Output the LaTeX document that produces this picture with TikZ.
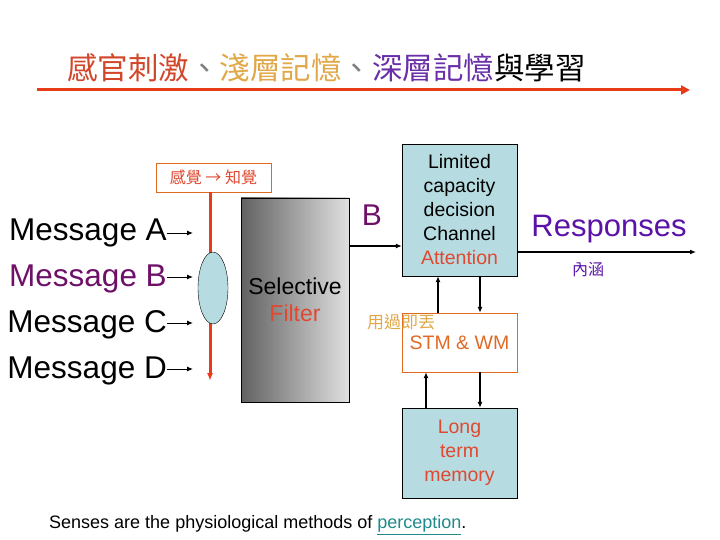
\documentclass[tikz,border=0pt]{standalone}
\usepackage{fontspec}
\setmainfont{Liberation Sans}
\newfontfamily\cjk{Noto Sans CJK TC}
\usetikzlibrary{arrows.meta, shapes.geometric}

\definecolor{titlered}{HTML}{D2462A}
\definecolor{titlegold}{HTML}{E0A848}
\definecolor{titlepurple}{HTML}{6A30A8}
\definecolor{msgpurple}{HTML}{6E1068}
\definecolor{respurple}{HTML}{5A12A8}
\definecolor{bluefill}{HTML}{B6DCE2}
\definecolor{filterred}{HTML}{E04830}
\definecolor{senseline}{HTML}{E83C18}
\definecolor{stmorange}{HTML}{E06A24}
\definecolor{linkteal}{HTML}{208A8A}

\begin{document}
\begin{tikzpicture}[
  x=1pt, y=-1pt,
  msg/.style={anchor=east, inner sep=0pt, font=\fontsize{31.5}{34}\selectfont},
  bluebox/.style={draw, thin, fill=bluefill, minimum width=115pt, align=center,
    inner sep=0pt, font=\fontsize{19.5}{24}\selectfont},
  stmbox/.style={draw=stmorange, thin, fill=white, minimum width=115pt,
    minimum height=59pt, align=center, inner sep=0pt,
    font=\fontsize{19.5}{24}\selectfont, text=stmorange},
  sensebox/.style={draw=stmorange, thin, fill=white, minimum width=115pt,
    minimum height=29pt, inner sep=0pt, text=filterred, font=\cjk\fontsize{16}{18}\selectfont},
  filter/.style={draw, thin, shading=axis, left color=black!62, right color=black!12,
    minimum width=108pt, minimum height=204pt, align=center, inner sep=0pt,
    font=\fontsize{23}{27}\selectfont},
  arr/.style={-{Latex[length=6pt, width=5pt]}, line width=1.2pt},
  redarr/.style={-{Latex[length=8pt, width=6pt]}, line width=3pt, senseline},
  titlearr/.style={-{Triangle[length=9pt, width=9pt]}, line width=3pt, senseline}
]
  \useasboundingbox (0,0) rectangle (720,540);

  % title
  \node[anchor=west, inner sep=0pt, font=\cjk\fontsize{30.5}{34}\selectfont] (title) at (67,68)
    {\textcolor{titlered}{感官刺激}\textcolor{black!50}{、}\textcolor{titlegold}{淺層記憶}\textcolor{black!50}{、}\textcolor{titlepurple}{深層記憶}與學習};
  \coordinate (titleL) at (37,90);
  \coordinate (titleR) at (690,90);
  \draw[titlearr] (titleL) -- (titleR);

  % messages
  \node[msg] (msgA) at (167,233) {Message A};
  \node[msg, text=msgpurple] (msgB) at (167,279) {Message B};
  \node[msg] (msgC) at (167,325) {Message C};
  \node[msg] (msgD) at (167,371) {Message D};
  \coordinate (inA) at (193,233);
  \coordinate (inB) at (193,277);
  \coordinate (inC) at (193,323);
  \coordinate (inD) at (193,369);
  \draw[arr, line width=1pt] (msgA.east |- inA) -- (inA);
  \draw[arr, line width=1pt] (msgB.east |- inB) -- (inB);
  \draw[arr, line width=1pt] (msgC.east |- inC) -- (inC);
  \draw[arr, line width=1pt] (msgD.east |- inD) -- (inD);

  % senses
  \node[sensebox] (sense) at (213.5,177.5) {感覺 → 知覺};
  \coordinate (senseEnd) at (210,381);
  \draw[redarr] (sense.south -| senseEnd) -- (senseEnd);
  \node[ellipse, draw, thin, fill=bluefill, minimum width=30pt, minimum height=72pt,
    inner sep=0pt] (lens) at (213,288) {};

  % filter
  \node[filter] (filter) at (295,300) {Selective\\\textcolor{filterred}{Filter}};

  % channel
  \node[bluebox, minimum height=132pt] (decide) at (459.5,210)
    {Limited\\capacity\\decision\\Channel\\\textcolor{filterred}{Attention}};
  \node[stmbox] (stm) at (459.5,342.5) {STM \& WM};
  \node[bluebox, minimum height=90pt, text=filterred] (ltm) at (459.5,453)
    {Long\\term\\memory};

  \draw[arr] ([yshift=54pt]filter.east) -- ([yshift=-36pt]decide.west);
  \node[text=msgpurple, font=\fontsize{30}{34}\selectfont, inner sep=0pt] (blabel) at (372,215) {B};

  \draw[arr] ([xshift=-21.5pt]stm.north) -- ([xshift=-21.5pt]decide.south);
  \draw[arr] ([xshift=20.5pt]decide.south) -- ([xshift=20.5pt]stm.north);
  \draw[arr] ([xshift=-33.5pt]ltm.north) -- ([xshift=-33.5pt]stm.south);
  \draw[arr] ([xshift=20.5pt]stm.south) -- ([xshift=20.5pt]ltm.north);

  \node[anchor=west, inner sep=0pt, text=titlegold, font=\cjk\fontsize{17}{19}\selectfont]
    (discard) at (367,322) {用過即丟};

  % responses
  \coordinate (respEnd) at (696,252);
  \draw[arr] (decide.east |- respEnd) -- (respEnd);
  \node[text=respurple, font=\fontsize{31}{34}\selectfont, inner sep=0pt] (resp) at (609,229) {Responses};
  \node[text=respurple, font=\cjk\fontsize{16}{18}\selectfont, inner sep=0pt] (meaning) at (588,270) {內涵};

  % footnote
  \node[anchor=west, inner sep=0pt, font=\fontsize{18}{20}\selectfont] (note) at (49,525)
    {Senses are the physiological methods of \textcolor{linkteal}{\underline{perception}}.};
\end{tikzpicture}
\end{document}
